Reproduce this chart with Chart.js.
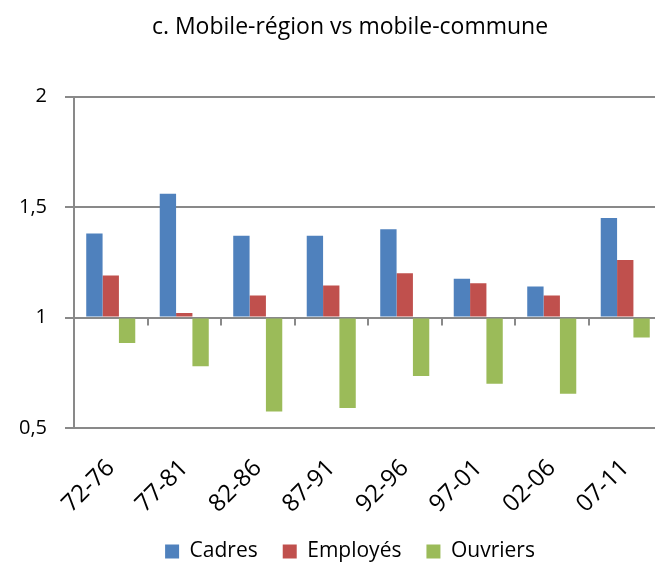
<!DOCTYPE html>
<html>
<head>
<meta charset="utf-8">
<script src="https://cdn.jsdelivr.net/npm/chart.js@4/dist/chart.umd.min.js"></script>
<style>
  html, body { margin: 0; padding: 0; background: #fff; overflow: hidden; }
  #wrap { width: 700px; height: 572px; position: relative; }
</style>
</head>
<body>
<div id="wrap"><canvas id="chart"></canvas></div>
<script>
// Periods and ratios per socio-professional group
const periods  = ['72-76', '77-81', '82-86', '87-91', '92-96', '97-01', '02-06', '07-11'];
const cadres   = [1.38, 1.56, 1.37, 1.37, 1.40, 1.175, 1.14, 1.45];
const employes = [1.19, 1.02, 1.10, 1.145, 1.20, 1.155, 1.10, 1.26];
const ouvriers = [0.885, 0.78, 0.575, 0.59, 0.735, 0.70, 0.655, 0.91];
const yTicks   = [0.5, 1, 1.5, 2];
const baseline = 1;

const AXIS_GRAY = '#898989';
const FONT = "'Open Sans', sans-serif";

// Small tick marks hanging under the baseline, at each category boundary
const baselineTicks = {
  id: 'baselineTicks',
  afterDatasetsDraw(chart) {
    const x = chart.scales.x, y = chart.scales.y;
    const yp = y.getPixelForValue(baseline);
    const step = (x.right - x.left) / periods.length;
    const ctx = chart.ctx;
    ctx.save();
    ctx.strokeStyle = AXIS_GRAY;
    ctx.lineWidth = 2;
    for (let i = 0; i <= periods.length; i++) {
      const xp = Math.round(x.left + i * step);
      ctx.beginPath();
      ctx.moveTo(xp, yp);
      ctx.lineTo(xp, yp + 8);
      ctx.stroke();
    }
    ctx.restore();
  }
};

Chart.defaults.color = '#000';
Chart.defaults.font.family = FONT;

new Chart(document.getElementById('chart'), {
  type: 'bar',
  data: {
    labels: periods,
    datasets: [
      { label: 'Cadres',   data: cadres,   backgroundColor: '#4F81BD', base: baseline },
      { label: 'Employés', data: employes, backgroundColor: '#C0504D', base: baseline },
      { label: 'Ouvriers', data: ouvriers, backgroundColor: '#9BBB59', base: baseline }
    ]
  },
  options: {
    responsive: true,
    maintainAspectRatio: false,
    animation: false,
    layout: { padding: 0 },
    datasets: { bar: { barPercentage: 1, categoryPercentage: 0.667 } },
    plugins: {
      tooltip: { enabled: false },
      title: {
        display: true,
        text: 'c. Mobile-région vs mobile-commune',
        font: { size: 23, weight: 'normal', family: FONT },
        color: '#000',
        padding: { top: 14, bottom: 55 }
      },
      legend: {
        position: 'bottom',
        labels: {
          boxWidth: 14,
          boxHeight: 14,
          padding: 25,
          font: { size: 21, family: FONT },
          color: '#000'
        }
      }
    },
    scales: {
      x: {
        grid: { display: false, drawTicks: false },
        border: { display: false },
        ticks: {
          maxRotation: 45,
          minRotation: 45,
          padding: 26,
          font: { size: 24, family: FONT },
          color: '#000'
        },
        afterFit(scale) {
          scale.height = 88;
          scale.paddingRight = 38;
        }
      },
      y: {
        min: 0.5,
        max: 2,
        afterBuildTicks(scale) { scale.ticks = yTicks.map(v => ({ value: v })); },
        grid: { color: AXIS_GRAY, lineWidth: 2, tickLength: 9, drawTicks: true },
        border: { display: true, color: AXIS_GRAY, width: 2 },
        ticks: {
          padding: 18,
          font: { size: 20, family: FONT },
          color: '#000',
          callback: v => String(v).replace('.', ',')
        },
        afterFit(scale) { scale.width = 74; }
      }
    }
  },
  plugins: [baselineTicks]
});
</script>
</body>
</html>
